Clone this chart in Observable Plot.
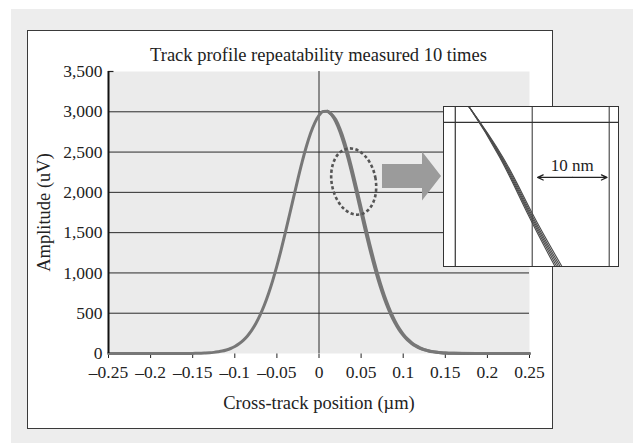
<!DOCTYPE html>
<html><head><meta charset="utf-8">
<script src="https://cdn.jsdelivr.net/npm/d3@7"></script>
<script src="https://cdn.jsdelivr.net/npm/@observablehq/plot@0.6"></script>
<style>
body{margin:0;background:#fff;font-family:"Liberation Serif","Times New Roman",serif;}
#wrap{position:relative;width:633px;height:443px;overflow:hidden;}
#bg{position:absolute;left:11px;top:9px;width:622px;height:434px;background:#ededed;}
#panel{position:absolute;left:27px;top:30px;width:524px;height:397px;background:#fff;border:1.5px solid #3a3a3a;}
#title{position:absolute;left:0;width:637px;top:44px;text-align:center;font-size:18.5px;color:#222;line-height:22px;}
#main{position:absolute;left:0;top:0;}
#inset{position:absolute;left:443px;top:106px;border:1.5px solid #333;background:#fff;width:174px;height:159px;}
</style></head>
<body>
<div id="wrap">
  <div id="bg"></div>
  <div id="panel"></div>
  <div id="main"></div>
  <div id="title">Track profile repeatability measured 10 times</div>
  <div id="inset"></div>
</div>
<script>
// ---- Data ----
const titleText = "Track profile repeatability measured 10 times";
const xLabel = "Cross-track position (µm)";
const yLabel = "Amplitude (uV)";
const xTicks = [-0.25, -0.2, -0.15, -0.1, -0.05, 0, 0.05, 0.1, 0.15, 0.2, 0.25];
const yTicks = [0, 500, 1000, 1500, 2000, 2500, 3000, 3500];
const gridValues = [500, 1000, 1500, 2000, 2500, 3000];

// Profile run A (cross-track position, µm)
const runAx = [-0.25, -0.2, -0.16, -0.15, -0.145, -0.14, -0.135, -0.13, -0.125, -0.12, -0.115, -0.11, -0.105, -0.1, -0.095, -0.09, -0.085, -0.08, -0.075, -0.07, -0.065, -0.06, -0.055, -0.05, -0.045, -0.04, -0.035, -0.03, -0.025, -0.02, -0.015, -0.01, -0.005, 0, 0.005, 0.01, 0.015, 0.02, 0.025, 0.03, 0.035, 0.04, 0.045, 0.05, 0.055, 0.06, 0.065, 0.07, 0.075, 0.08, 0.085, 0.09, 0.095, 0.1, 0.105, 0.11, 0.115, 0.12, 0.125, 0.13, 0.135, 0.14, 0.145, 0.15, 0.155, 0.16, 0.17, 0.2, 0.25];
const runAy = [0, 0, 0.6, 1.5, 2.4, 3.9, 6, 9, 14, 21, 30, 44, 62, 87, 120, 163, 218, 287, 372, 476, 598, 741, 905, 1087, 1287, 1500, 1722, 1947, 2168, 2378, 2569, 2733, 2863, 2955, 3003, 3006, 2963, 2876, 2750, 2590, 2402, 2194, 1974, 1749, 1526, 1312, 1110, 925, 760, 614, 489, 384, 296, 225, 169, 125, 91, 65, 46, 32, 22, 15, 10, 6, 4, 2.5, 1, 0, 0];
// Profile run B (trailing side differs slightly)
const runBx = [0.01, 0.02, 0.025, 0.03, 0.035, 0.04, 0.045, 0.05, 0.055, 0.06, 0.065, 0.07, 0.075, 0.08, 0.085, 0.09, 0.095, 0.1, 0.105, 0.11, 0.115, 0.12, 0.125, 0.13, 0.135, 0.14, 0.145, 0.15, 0.16, 0.2, 0.25];
const runBy = [3006, 2900, 2785, 2636, 2455, 2252, 2035, 1810, 1585, 1368, 1162, 972, 801, 650, 519, 408, 316, 241, 181, 134, 98, 70, 49, 34, 23, 15.5, 10, 6, 3, 0, 0];

// Annotation anchors (data units)
const ellipseCenter = [0.0418, 2128];
const arrowFrom = [0.0754, 2197];
const arrowTo = [0.1455, 2197];

// Inset (magnified trailing edge, 5 overlaid runs)
const insetLevels = [2650, 2580, 2313, 2008, 1730, 1650];
const insetRun1 = [0.0305, 0.03185, 0.03578, 0.03945, 0.04295, 0.04395];
const insetRun2 = [0.0305, 0.03185, 0.03588, 0.03960, 0.04318, 0.04420];
const insetRun3 = [0.0305, 0.03185, 0.03598, 0.03975, 0.04340, 0.04445];
const insetRun4 = [0.0305, 0.03185, 0.03608, 0.03990, 0.04362, 0.04470];
const insetRun5 = [0.0305, 0.03185, 0.03620, 0.04008, 0.04386, 0.04497];
const insetGridX = [0.03, 0.04, 0.05];
const insetGridY = [2500];
const scaleLabel = "10 nm";
const scaleBar = [0.0407, 0.0497, 2206];
const scaleLabelPos = [0.0452, 2268];

// ---- Build tables ----
const profile = [
  ...runAx.map((x, i) => ({run: "A", x, y: runAy[i]})),
  ...runBx.map((x, i) => ({run: "B", x, y: runBy[i]}))
];
const insetRuns = [insetRun1, insetRun2, insetRun3, insetRun4, insetRun5];
const insetData = insetRuns.flatMap((r, k) => r.map((x, i) => ({run: k, x, y: insetLevels[i]})));

const fmtX = d => (d < 0 ? "\u2013" : "") + String(+Math.abs(d).toFixed(2));
const serif = "'Liberation Serif','Times New Roman',serif";

const annot = (index, scales) => {
  const g = d3.create("svg:g");
  const cx = scales.x(ellipseCenter[0]), cy = scales.y(ellipseCenter[1]);
  g.append("ellipse").attr("cx", cx).attr("cy", cy).attr("rx", 22).attr("ry", 33.5)
    .attr("transform", `rotate(-11 ${cx} ${cy})`)
    .attr("fill", "none").attr("stroke", "#555").attr("stroke-width", 2.6).attr("stroke-dasharray", "3.2,2.4");
  const x0 = scales.x(arrowFrom[0]), x1 = scales.x(arrowTo[0]), y = scales.y(arrowFrom[1]);
  const hl = 19, sh = 12, hh = 24.5;
  g.append("path").attr("d", `M${x0},${y - sh}H${x1 - hl}V${y - hh}L${x1},${y}L${x1 - hl},${y + hh}V${y + sh}H${x0}Z`)
    .attr("fill", "#9b9b9b");
  return g.node();
};

const main = Plot.plot({
  width: 633, height: 443,
  marginLeft: 108, marginRight: 104, marginTop: 71, marginBottom: 90,
  style: {background: "transparent", fontFamily: serif, fontSize: "17.5px", color: "#222"},
  x: {domain: [-0.25, 0.25], ticks: xTicks, tickFormat: fmtX, tickSize: 5, tickPadding: 7, label: null},
  y: {domain: [0, 3500], ticks: yTicks, tickFormat: d3.format(","), tickSize: 0, tickPadding: 6, label: null},
  marks: [
    Plot.frame({fill: "#ebebeb"}),
    Plot.ruleY(gridValues, {stroke: "#2a2a2a", strokeWidth: 1}),
    Plot.ruleY([3500], {x1: -0.25, x2: -0.2435, stroke: "#222", strokeWidth: 1.2}),
    Plot.ruleX([0], {stroke: "#2a2a2a", strokeWidth: 1}),
    Plot.line(profile, {x: "x", y: "y", z: "run", stroke: "#777", strokeWidth: 3, curve: "monotone-x"}),
    Plot.ruleX([-0.25], {stroke: "#111", strokeWidth: 2}),
    annot,
    Plot.text([yLabel], {frameAnchor: "left", textAnchor: "middle", lineAnchor: "middle", dx: -64, rotate: -90, fontSize: 18.5, fill: "#222"}),
    Plot.text([xLabel], {frameAnchor: "bottom", textAnchor: "middle", lineAnchor: "middle", dy: 50, fontSize: 18.5, fill: "#222"})
  ]
});
document.getElementById("main").appendChild(main);

const inset = Plot.plot({
  width: 174, height: 159,
  margin: 0, marginLeft: 0, marginRight: 0, marginTop: 0, marginBottom: 0,
  style: {background: "white", fontFamily: serif, fontSize: "17px", overflow: "hidden", color: "#222"},
  x: {domain: [0.0286, 0.0512], axis: null},
  y: {domain: [1730, 2580], axis: null},
  marks: [
    Plot.ruleX(insetGridX.slice(0, 1), {stroke: "#333", strokeWidth: 1.2}),
    Plot.ruleX(insetGridX.slice(1), {stroke: "#6a6a6a", strokeWidth: 1.4}),
    Plot.ruleY(insetGridY, {stroke: "#333", strokeWidth: 1.2}),
    Plot.line(insetData, {x: "x", y: "y", z: "run", stroke: "#4a4a4a", strokeWidth: 1.1, curve: "natural"}),
    Plot.arrow([{x1: scaleLabelPos[0], x2: scaleBar[0]}, {x1: scaleLabelPos[0], x2: scaleBar[1]}],
      {x1: "x1", x2: "x2", y1: scaleBar[2], y2: scaleBar[2], stroke: "#222", strokeWidth: 1.3, headLength: 7, headAngle: 50}),
    Plot.text([scaleLabel], {x: scaleLabelPos[0], y: scaleLabelPos[1], fontSize: 17, fill: "#222"})
  ]
});
document.getElementById("inset").appendChild(inset);
</script>
</body></html>
